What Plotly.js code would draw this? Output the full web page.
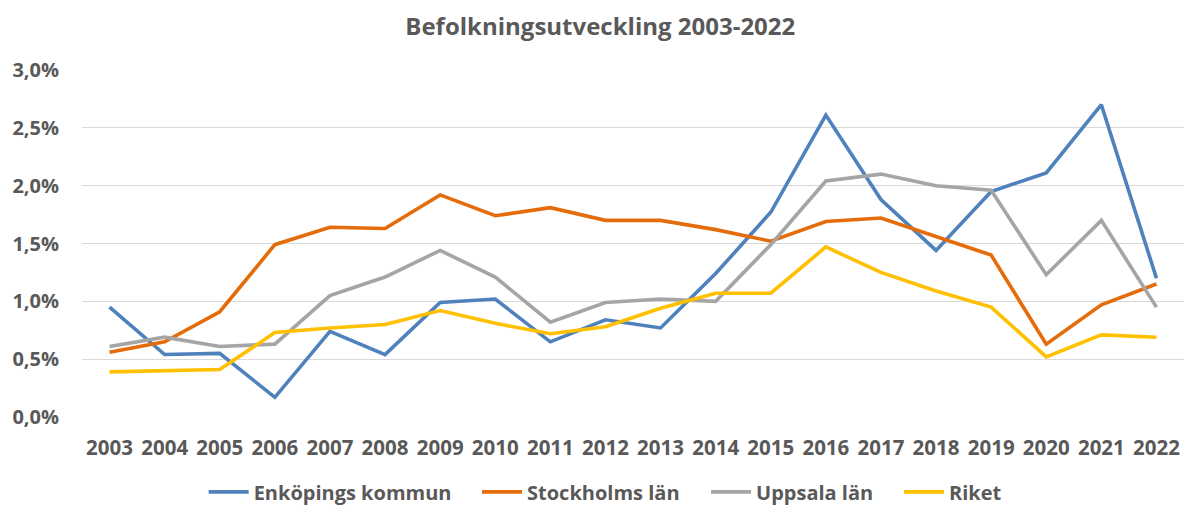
<!DOCTYPE html>
<html>
<head>
<meta charset="utf-8">
<script src="https://cdn.plot.ly/plotly-3.0.1.min.js"></script>
<style>html,body{margin:0;padding:0;background:#fff}#chart{width:1184px;height:505px}</style>
</head>
<body>
<div id="chart"></div>
<script>
const years = ["2003","2004","2005","2006","2007","2008","2009","2010","2011","2012","2013","2014","2015","2016","2017","2018","2019","2020","2021","2022"];
const enkoping = [0.95,0.54,0.55,0.17,0.74,0.54,0.99,1.02,0.65,0.84,0.77,1.24,1.77,2.61,1.88,1.44,1.95,2.11,2.70,1.20];
const stockholm = [0.56,0.65,0.91,1.49,1.64,1.63,1.92,1.74,1.81,1.70,1.70,1.62,1.52,1.69,1.72,1.56,1.40,0.63,0.97,1.15];
const uppsala = [0.61,0.69,0.61,0.63,1.05,1.21,1.44,1.21,0.82,0.99,1.02,1.00,1.49,2.04,2.10,2.00,1.96,1.23,1.70,0.95];
const riket = [0.39,0.40,0.41,0.73,0.77,0.80,0.92,0.81,0.72,0.78,0.94,1.07,1.07,1.47,1.25,1.09,0.95,0.52,0.71,0.69];
const seriesNames = ["Enköpings kommun","Stockholms län","Uppsala län","Riket"];
const seriesColors = ["#4f81bd","#e46c0a","#a5a5a5","#ffc000"];
const yTicks = [0,0.5,1,1.5,2,2.5,3];
const yTickText = ["0,0%","0,5%","1,0%","1,5%","2,0%","2,5%","3,0%"];

const FONT = "'Open Sans', 'Liberation Sans', sans-serif";
const allSeries = [enkoping, stockholm, uppsala, riket];
const legendIds = ['legend', 'legend2', 'legend3', 'legend4'];
const legendX = [0.172, 0.4029, 0.5963, 0.7593];
const traces = allSeries.map((vals, i) => ({
  type: 'scatter', mode: 'lines', x: years, y: vals, name: seriesNames[i],
  legend: legendIds[i],
  line: {color: seriesColors[i], width: 3.6}, hoverinfo: 'skip'
}));

const layout = {
  width: 1184, height: 505,
  margin: {l: 82, r: 0, t: 70, b: 88},
  paper_bgcolor: '#fff', plot_bgcolor: '#fff',
  title: {text: 'Befolkningsutveckling 2003-2022', x: 0.507, xref: 'container', xanchor: 'center', y: 0.948, yref: 'container', yanchor: 'middle',
          font: {family: FONT, size: 24, color: '#595959', weight: 'bold'}},
  xaxis: {type: 'category', range: [-0.5, 19.5], showgrid: false, zeroline: false, showline: false, ticks: '',
          ticklabelstandoff: 16, tickfont: {family: FONT, size: 20.5, color: '#595959', weight: 'bold'}, fixedrange: true},
  yaxis: {range: [0, 3], tickvals: yTicks, ticktext: yTickText, showgrid: true, gridcolor: '#d9d9d9', gridwidth: 1.3,
          zeroline: false, showline: false, ticks: '', ticklabelstandoff: 22,
          tickfont: {family: FONT, size: 20, color: '#595959', weight: 'bold'}, fixedrange: true},
  showlegend: true,
  hovermode: false
};
legendIds.forEach((id, i) => {
  layout[id] = {orientation: 'h', x: legendX[i], xref: 'container', xanchor: 'left', y: 0.026, yref: 'container', yanchor: 'middle',
                font: {family: FONT, size: 20, color: '#595959', weight: 'bold'}, itemwidth: 40, bgcolor: 'rgba(0,0,0,0)'};
});
Plotly.newPlot('chart', traces, layout, {displayModeBar: false, staticPlot: true});
</script>
</body>
</html>
